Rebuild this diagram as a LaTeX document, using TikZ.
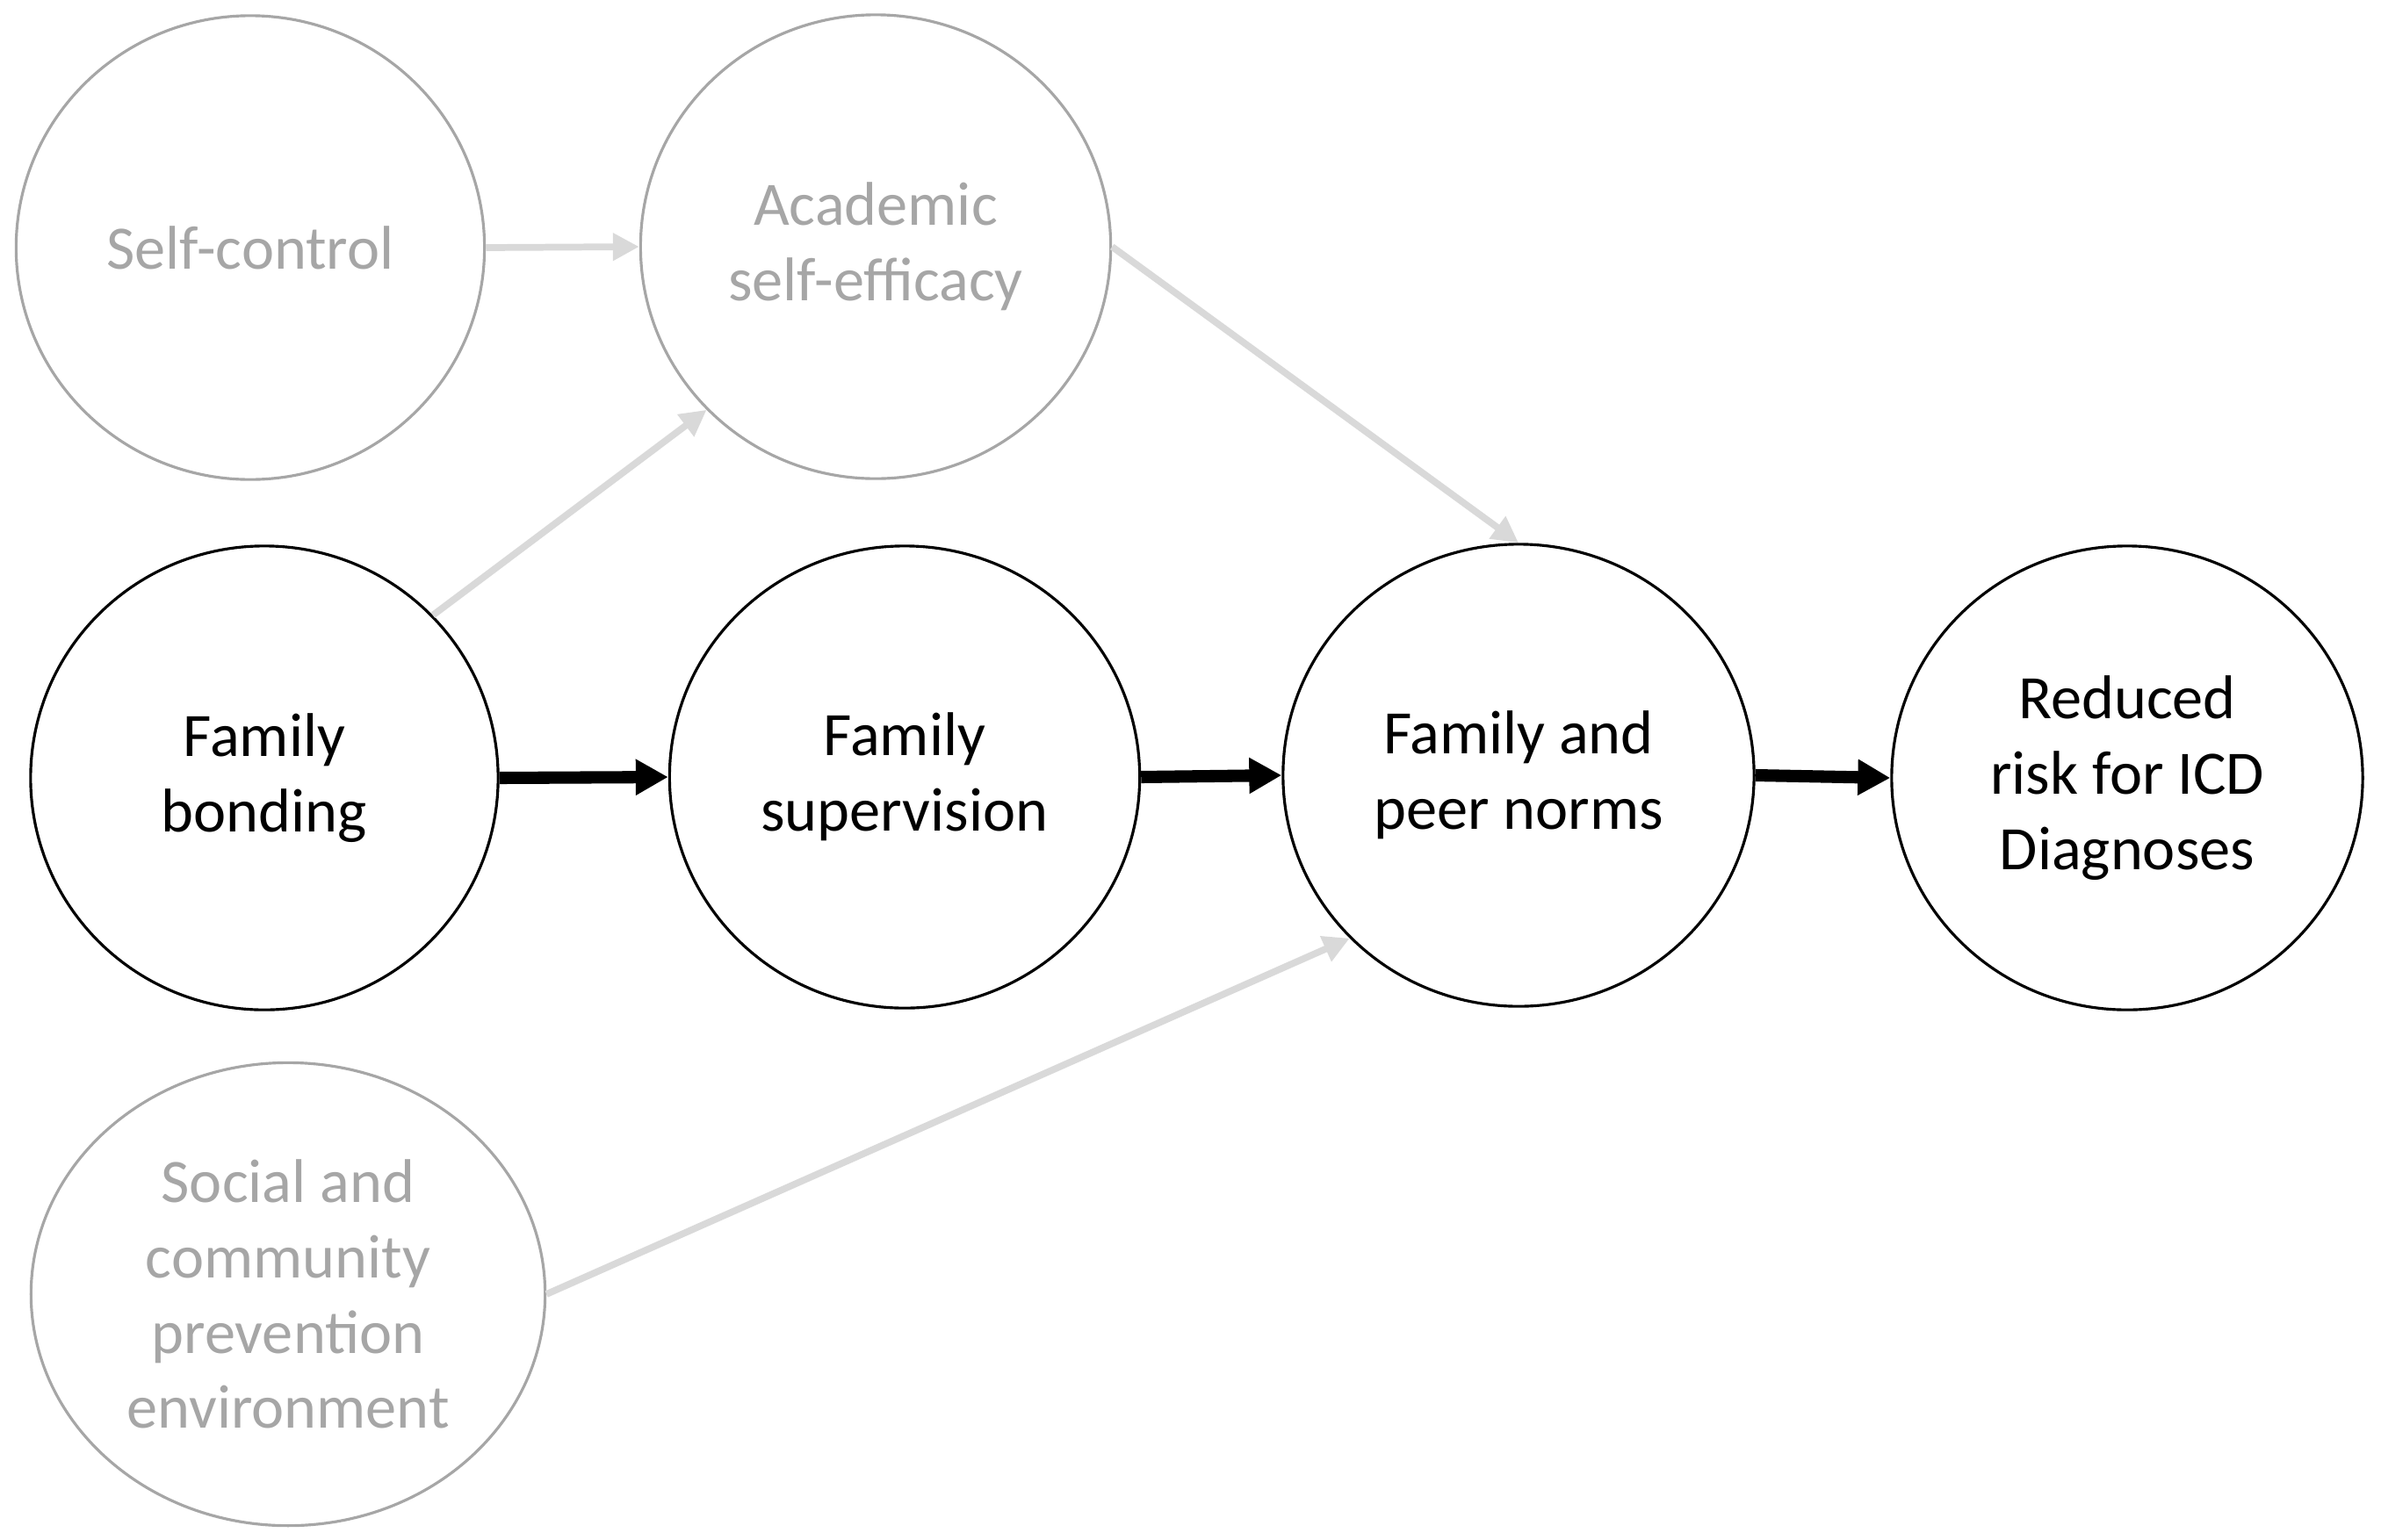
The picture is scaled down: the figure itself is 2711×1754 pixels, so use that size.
\documentclass[tikz,border=0pt]{standalone}
\usepackage{fontspec}
\setmainfont{Carlito}
\usetikzlibrary{shapes.geometric,arrows.meta}
\definecolor{lgray}{HTML}{A6A6A6}
\definecolor{agray}{HTML}{D9D9D9}
\tikzset{
  blk/.style={ellipse,draw=black,line width=0.9pt,inner sep=0pt,align=center,
    font=\fontsize{20}{24.4}\selectfont,text=black},
  gry/.style={ellipse,draw=lgray,line width=0.9pt,inner sep=0pt,align=center,
    font=\fontsize{20}{24.4}\selectfont,text=lgray},
  barrow/.style={line width=4pt,draw=black,-{Triangle[length=10.5pt,width=11pt]},shorten >=0pt},
  garrow/.style={line width=2.2pt,draw=agray,-{Triangle[length=8.5pt,width=8.5pt]}},
}
\begin{document}
\begin{tikzpicture}[x=0.01cm,y=-0.01cm]
\useasboundingbox (0,0) rectangle (2711,1754);
\node[gry,minimum width=5.33cm,minimum height=5.28cm] (sc) at (285,282) {Self-control};
\node[gry,minimum width=5.35cm,minimum height=5.28cm] (ac) at (997,281) {Academic\\self-efficacy};
\node[blk,minimum width=5.32cm,minimum height=5.28cm] (fb) at (301,886) {Family\\bonding};
\node[blk,minimum width=5.35cm,minimum height=5.26cm] (fs) at (1030,885) {Family\\supervision};
\node[blk,minimum width=5.36cm,minimum height=5.26cm] (fn) at (1729,883) {Family and\\peer norms};
\node[blk,minimum width=5.36cm,minimum height=5.28cm] (rr) at (2422,886) {Reduced\\risk for ICD\\Diagnoses};
\node[gry,minimum width=5.85cm,minimum height=5.27cm] (sp) at (328,1474) {Social and\\community\\prevention\\environment};
\draw[garrow] (sc.east) -- (ac.west);
\draw[garrow] (fb.44) -- (ac.224);
\draw[garrow] (ac.east) -- (fn.north);
\draw[garrow] (sp.east) -- (fn.224);
\draw[barrow] (fb.east) -- (fs.west);
\draw[barrow] (fs.east) -- (fn.west);
\draw[barrow] (fn.east) -- (rr.west);
\end{tikzpicture}
\end{document}
